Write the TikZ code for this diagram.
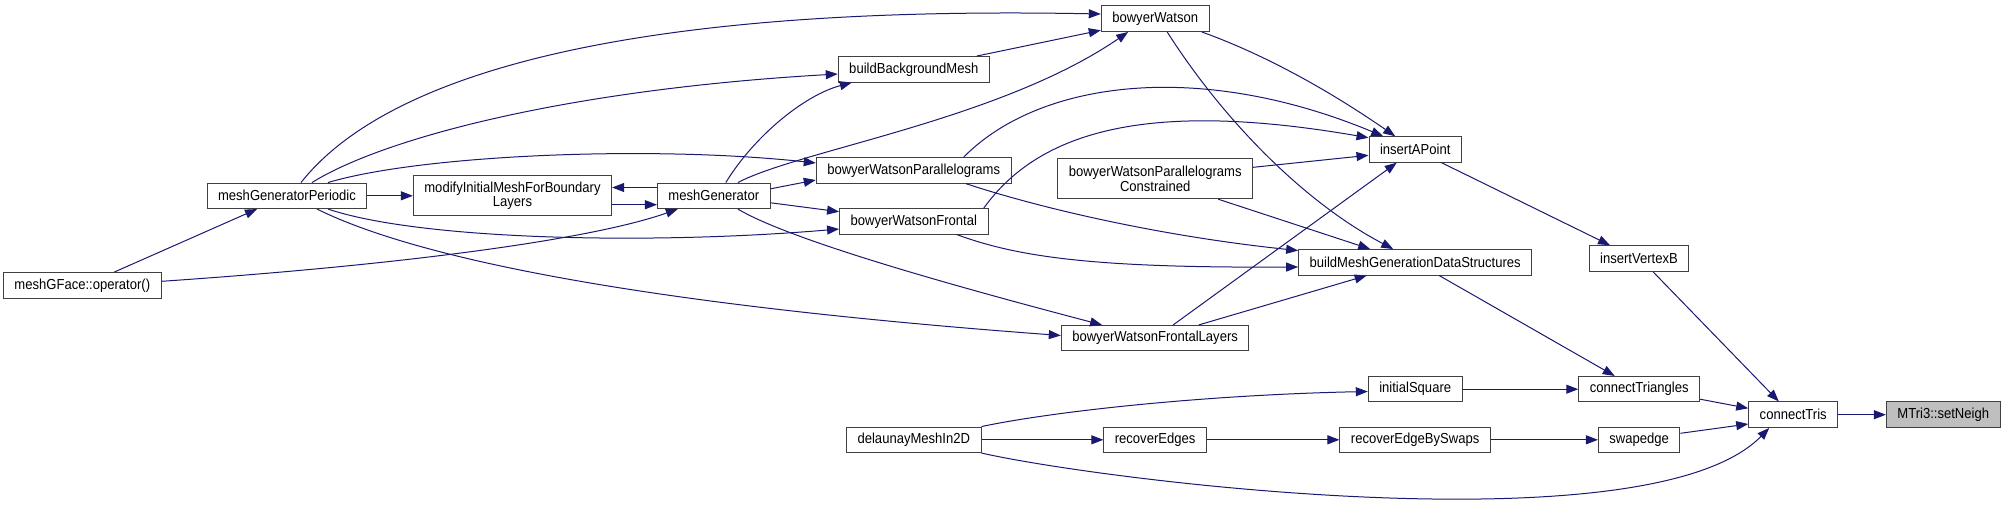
\documentclass[tikz,border=0pt]{standalone}
\usepackage{fontspec}
\setmainfont{Liberation Sans}[FakeStretch=0.9]
\usetikzlibrary{arrows.meta}
\definecolor{edgeblue}{RGB}{25,25,112}
\definecolor{boxline}{RGB}{64,64,64}
\tikzset{
	fnbox/.style={rectangle, draw=boxline, line width=1pt, fill=white,
		minimum height=25.5pt, inner xsep=11pt, inner ysep=3pt,
		align=center, font=\fontsize{14.5}{13.5}\selectfont},
	rootbox/.style={fnbox, fill=black!25},
	twoline/.style={minimum height=40pt},
	callarr/.style={-{Triangle[length=12pt,width=9pt]}, line width=1pt, draw=edgeblue}
}

\begin{document}
\begin{tikzpicture}[x=1pt, y=-1pt]
	\useasboundingbox (0,0) rectangle (2005,509);
	% callers, left to right
	\node[fnbox] (meshgface) at (82.3,285.3) {meshGFace::operator()};
	\node[fnbox] (meshper) at (287,195.8) {meshGeneratorPeriodic};
	\node[fnbox, twoline] (modify) at (512.5,195.8) {modifyInitialMeshForBoundary\\Layers};
	\node[fnbox] (meshgen) at (713.8,195.8) {meshGenerator};
	\node[fnbox] (buildbg) at (913.8,69.3) {buildBackgroundMesh};
	\node[fnbox] (bwp) at (913.7,170.3) {bowyerWatsonParallelograms};
	\node[fnbox] (bwf) at (913.8,221.3) {bowyerWatsonFrontal};
	\node[fnbox] (delaunay) at (913.8,439.8) {delaunayMeshIn2D};
	\node[fnbox] (bw) at (1155.2,18.7) {bowyerWatson};
	\node[fnbox, twoline] (bwpc) at (1155.2,178.7) {bowyerWatsonParallelograms\\Constrained};
	\node[fnbox] (bwfl) at (1155.1,338.2) {bowyerWatsonFrontalLayers};
	\node[fnbox] (recedges) at (1155.1,439.8) {recoverEdges};
	\node[fnbox] (insapoint) at (1415.2,149.5) {insertAPoint};
	\node[fnbox] (buildds) at (1415.2,262.3) {buildMeshGenerationDataStructures};
	\node[fnbox] (initsq) at (1415.2,389.2) {initialSquare};
	\node[fnbox] (recswap) at (1415.1,439.8) {recoverEdgeBySwaps};
	\node[fnbox] (insvert) at (1639,258.5) {insertVertexB};
	\node[fnbox] (conntri) at (1639.2,389.2) {connectTriangles};
	\node[fnbox] (swapedge) at (1639.2,439.8) {swapedge};
	\node[fnbox] (conntris) at (1793.2,414.7) {connectTris};
	\node[rootbox] (setneigh) at (1943.2,414.7) {MTri3::setNeigh};

	% meshGFace::operator()
	\draw[callarr] ([xshift=32pt]meshgface.north) -- ([xshift=-30pt]meshper.south);
	\draw[callarr] ([yshift=4pt]meshgface.east) .. controls (400,265) and (590,240) .. ([xshift=-36pt]meshgen.south);

	% meshGeneratorPeriodic
	\draw[callarr] (meshper) -- (modify);
	\draw[callarr] ([xshift=14pt]meshper.north) .. controls (390,70) and (640,5) .. ([yshift=4.7pt]bw.west);
	\draw[callarr] ([xshift=25pt]meshper.north) .. controls (380,140) and (560,90) .. ([yshift=-4.7pt]buildbg.west);
	\draw[callarr] ([xshift=41pt]meshper.north) .. controls (420,155) and (650,145) .. ([yshift=7.3pt]bwp.west);
	\draw[callarr] ([xshift=41pt]meshper.south) .. controls (420,240) and (650,245) .. ([yshift=-7.7pt]bwf.west);
	\draw[callarr] ([xshift=30pt]meshper.south) .. controls (420,260) and (650,305) .. ([yshift=2.7pt]bwfl.west);

	% meshGenerator
	\draw[callarr] ([yshift=8.3pt]meshgen.west) -- ([yshift=8.3pt]modify.east);
	\draw[callarr] ([yshift=-8.9pt]modify.east) -- ([yshift=-8.9pt]meshgen.west);
	\draw[callarr] ([xshift=12pt]meshgen.north) .. controls (755,135) and (805,95) .. ([xshift=-62pt]buildbg.south);
	\draw[callarr] ([xshift=24pt]meshgen.north) .. controls (800,150) and (1000,120) .. ([xshift=-27pt]bw.south);
	\draw[callarr] ([yshift=7pt]meshgen.east) -- ([yshift=-9.7pt]bwp.west);
	\draw[callarr] ([yshift=-7pt]meshgen.east) -- ([yshift=9.6pt]bwf.west);
	\draw[callarr] ([xshift=24pt]meshgen.south) .. controls (790,240) and (950,285) .. ([xshift=-53pt]bwfl.north);

	% buildBackgroundMesh, bowyerWatsonParallelograms, bowyerWatsonFrontal
	\draw[callarr] ([xshift=63pt]buildbg.north) -- ([yshift=1.7pt]bw.south west);
	\draw[callarr] ([xshift=50pt]bwp.north) .. controls (1040,80) and (1200,60) .. ([xshift=-32pt]insapoint.north);
	\draw[callarr] ([xshift=52pt]bwp.south) .. controls (1030,205) and (1150,235) .. ([yshift=-1.5pt]buildds.north west);
	\draw[callarr] ([xshift=70pt]bwf.north) .. controls (1040,130) and (1150,100) .. ([yshift=-1.5pt]insapoint.north west);
	\draw[callarr] ([xshift=43pt]bwf.south) .. controls (1020,258) and (1100,268) .. ([yshift=-4.7pt]buildds.west);

	% bowyerWatson family
	\draw[callarr] ([xshift=46.5pt]bw.south) .. controls (1280,60) and (1350,105) .. ([xshift=-20pt]insapoint.north);
	\draw[callarr] ([xshift=12pt]bw.south) .. controls (1220,115) and (1300,200) .. ([xshift=-22pt]buildds.north);
	\draw[callarr] ([yshift=11.4pt]bwpc.east) -- ([yshift=-5.8pt]insapoint.west);
	\draw[callarr] ([xshift=63pt]bwpc.south) -- ([xshift=-45pt]buildds.north);
	\draw[callarr] ([xshift=18pt]bwfl.north) -- ([xshift=-18.5pt]insapoint.south);
	\draw[callarr] ([xshift=43.6pt]bwfl.north) -- ([xshift=-48.5pt]buildds.south);

	% delaunayMeshIn2D chain
	\draw[callarr] (delaunay) -- (recedges);
	\draw[callarr] (recedges) -- (recswap);
	\draw[callarr] (recswap) -- (swapedge);
	\draw[callarr] (delaunay.north east) .. controls (1050,412) and (1200,395) .. ([yshift=-2.3pt]initsq.west);
	\draw[callarr] (delaunay.south east) .. controls (1100,480) and (1650,550) .. ([xshift=-24pt]conntris.south);

	% towards setNeigh
	\draw[callarr] ([xshift=26.4pt]insapoint.south) -- ([xshift=-29pt]insvert.north);
	\draw[callarr] ([xshift=24pt]buildds.south) -- ([xshift=-24.5pt]conntri.north);
	\draw[callarr] (initsq) -- (conntri);
	\draw[callarr] ([xshift=14pt]insvert.south) -- ([xshift=-14.4pt]conntris.north);
	\draw[callarr] ([yshift=-10pt]conntri.east) -- ([yshift=6.4pt]conntris.west);
	\draw[callarr] ([yshift=6.5pt]swapedge.east) -- ([yshift=-9.3pt]conntris.west);
	\draw[callarr] (conntris) -- (setneigh);
\end{tikzpicture}
\end{document}
